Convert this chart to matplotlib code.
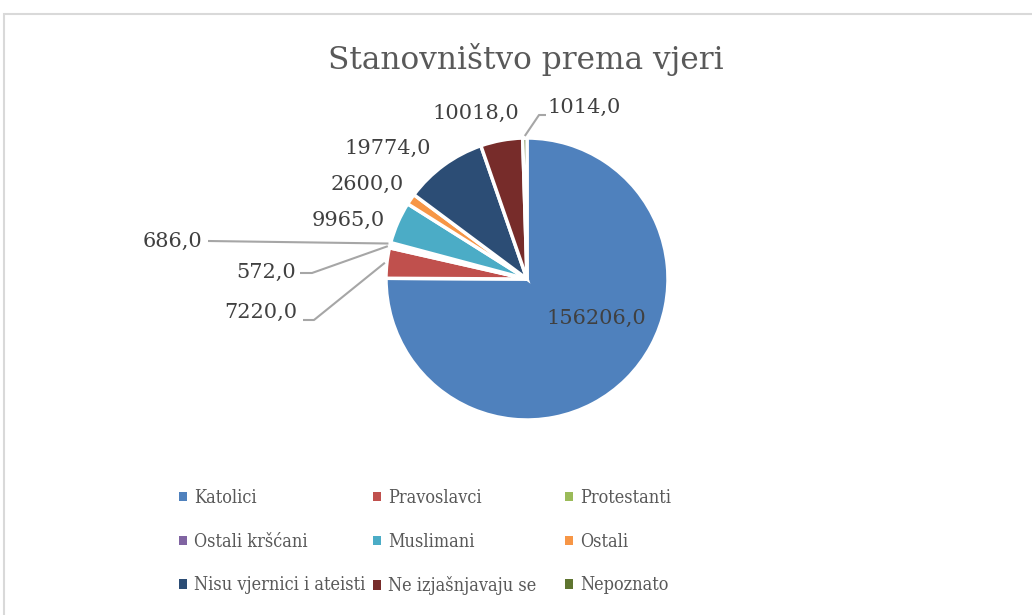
import matplotlib
matplotlib.use('Agg')
import matplotlib.pyplot as plt
from matplotlib.patches import Patch, Rectangle
import numpy as np

categories = ['Katolici', 'Pravoslavci', 'Protestanti', 'Ostali kršćani', 'Muslimani',
              'Ostali', 'Nisu vjernici i ateisti', 'Ne izjašnjavaju se', 'Nepoznato']
values = [156206, 7220, 572, 686, 9965, 2600, 19774, 10018, 1014]
colors = ['#4F81BD', '#C0504D', '#9BBB59', '#8064A2', '#4BACC6',
          '#F79646', '#2C4D75', '#772C2A', '#5F7530']

plt.rcParams['font.family'] = ['DejaVu Serif']

W, H = 1032, 615

def P(px, py):
    # pixel position (top-left origin) -> data coords
    return px, H - py

fig = plt.figure(figsize=(W / 100, H / 100), dpi=100)
ax = fig.add_axes([0, 0, 1, 1])

explode = [0] + [0.04] * (len(values) - 1)
wedges, _ = ax.pie(values, colors=colors, startangle=90, counterclock=False,
                   center=P(527, 279), radius=141, explode=explode,
                   wedgeprops=dict(edgecolor='white', linewidth=2.5))
ax.set_xlim(0, W)
ax.set_ylim(0, H)
ax.set_aspect('equal')
ax.axis('off')

# chart border
ax.add_patch(Rectangle(P(4, 640), 1100, 640 - 14, fill=False,
                       edgecolor='#D9D9D9', linewidth=1.5))

ax.text(*P(526, 60), 'Stanovništvo prema vjeri', ha='center', va='center',
        fontsize=22.5, color='#595959')

# label positions (pixel centres) and leader line elbows
label_pos = [(596, 318), (261, 312), (266, 272), (173, 241), (348, 220),
             (367, 184), (388, 148), (476, 113), (584, 107)]
leaders = {1: [(303, 320), (314, 320)],
           2: [(300, 273), (312, 273)],
           3: [(208, 241)],
           8: [(546, 115), (539, 115)]}

for i, (w, v) in enumerate(zip(wedges, values)):
    txt = f'{v:.1f}'.replace('.', ',')
    ax.text(*P(*label_pos[i]), txt, ha='center', va='center',
            fontsize=15, color='#404040')
    if i in leaders:
        mid = np.deg2rad((w.theta1 + w.theta2) / 2)
        cx, cy = w.center
        ex = cx + (w.r + 2) * np.cos(mid)
        ey = cy + (w.r + 2) * np.sin(mid)
        pts = [P(*p) for p in leaders[i]] + [(ex, ey)]
        xs, ys = zip(*pts)
        ax.plot(xs, ys, color='#A6A6A6', linewidth=1.5, solid_capstyle='butt')

# legend: three columns, filled row by row
col_x = [179, 373, 565]
for c in range(3):
    idx = [r * 3 + c for r in range(3)]
    handles = [Patch(facecolor=colors[k], edgecolor='none') for k in idx]
    fig.legend(handles, [categories[k] for k in idx], loc='upper left',
               bbox_to_anchor=(col_x[c] / W, 1 - 489 / H), frameon=False,
               borderpad=0, borderaxespad=0,
               prop=dict(family='DejaVu Serif', stretch='condensed', size=13),
               labelcolor='#595959',
               handlelength=0.42, handleheight=0.42, handletextpad=0.4,
               labelspacing=1.42)

fig.savefig('out.png', dpi=100)
